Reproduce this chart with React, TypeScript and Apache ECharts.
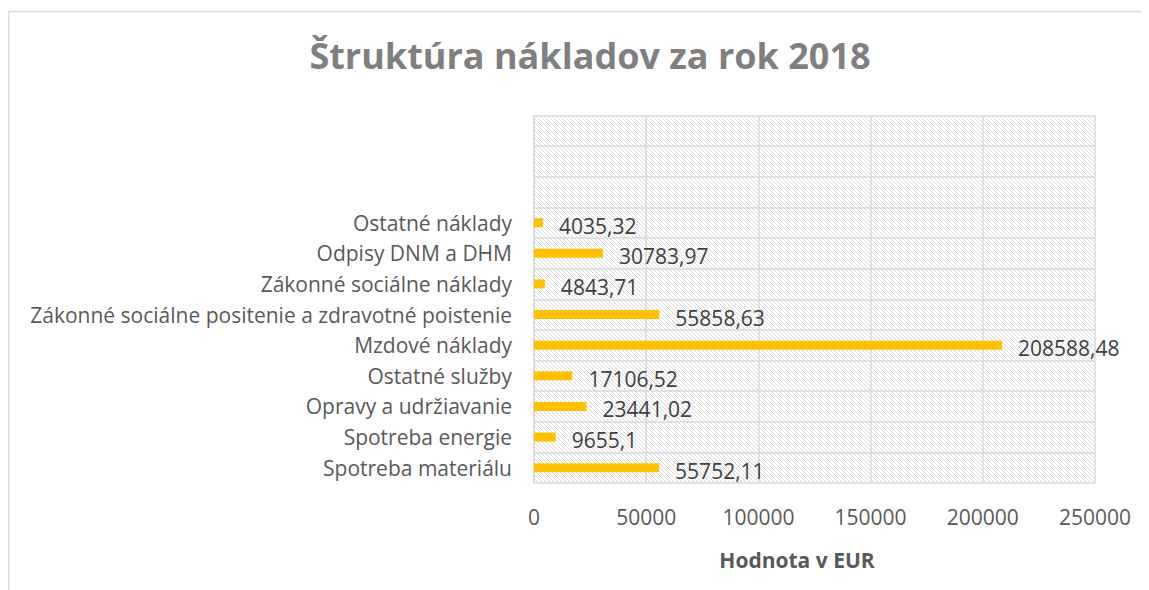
import React, { useEffect, useRef } from "react";
import * as echarts from "echarts";

const titleText = "Štruktúra nákladov za rok 2018";
const axisTitle = "Hodnota v EUR";
const categories = [
  "Spotreba materiálu",
  "Spotreba energie",
  "Opravy a udržiavanie",
  "Ostatné služby",
  "Mzdové náklady",
  "Zákonné sociálne positenie a zdravotné poistenie",
  "Zákonné sociálne náklady",
  "Odpisy DNM a DHM",
  "Ostatné náklady",
  " ",
  "  ",
  "   ",
];
const values: (number | null)[] = [
  55752.11, 9655.1, 23441.02, 17106.52, 208588.48, 55858.63, 4843.71, 30783.97, 4035.32, null, null, null,
];
const xMin = 0;
const xMax = 250000;
const xInterval = 50000;

const FONT = "'Open Sans', sans-serif";

function hatchPattern() {
  const svg =
    "<svg xmlns='http://www.w3.org/2000/svg' width='4' height='4'>" +
    "<rect width='4' height='4' fill='#ffffff'/>" +
    "<path d='M-1,-1 L5,5 M-1,3 L1,5 M3,-1 L5,1' stroke='#dcdcdc' stroke-width='1'/>" +
    "</svg>";
  return {
    image: "data:image/svg+xml;base64," + btoa(svg),
    repeat: "repeat",
    imageWidth: 4,
    imageHeight: 4,
  } as any;
}

export default function App() {
  const ref = useRef<HTMLDivElement>(null);
  useEffect(() => {
    if (!ref.current) return;
    const chart = echarts.init(ref.current, null, { renderer: "svg" });
    chart.setOption({
      animation: false,
      backgroundColor: "#ffffff",
      title: {
        text: titleText,
        left: 577,
        top: 24,
        textAlign: "center",
        textStyle: { fontFamily: FONT, fontSize: 36, fontWeight: "bold", color: "#7f7f7f" },
      },
      graphic: [
        { type: "line", shape: { x1: 0.5, y1: 3.5, x2: 1141, y2: 3.5 }, style: { stroke: "#d9d9d9", lineWidth: 1.5 } },
        { type: "line", shape: { x1: 0.5, y1: 3.5, x2: 0.5, y2: 582 }, style: { stroke: "#d9d9d9", lineWidth: 1.5 } },
      ],
      grid: {
        left: 526,
        right: 54,
        top: 107.5,
        bottom: 107,
        show: true,
        backgroundColor: hatchPattern(),
        borderWidth: 0,
      },
      xAxis: {
        type: "value",
        min: xMin,
        max: xMax,
        interval: xInterval,
        axisLine: { show: false },
        axisTick: { show: false },
        splitLine: { show: true, lineStyle: { color: "#d9d9d9", width: 1.5 } },
        axisLabel: {
          fontFamily: FONT,
          fontSize: 21,
          color: "#595959",
          margin: 23,
          formatter: (v: number) => String(v),
        },
        name: axisTitle,
        nameLocation: "middle",
        nameGap: 66,
        nameTextStyle: { fontFamily: FONT, fontSize: 21, fontWeight: "bold", color: "#595959", padding: [0, 35, 0, 0] },
      },
      yAxis: {
        type: "category",
        data: categories,
        axisLine: { show: true, lineStyle: { color: "#d9d9d9", width: 1.5 } },
        axisTick: { show: false },
        splitLine: { show: true, lineStyle: { color: "#d9d9d9", width: 1.5 } },
        axisLabel: { fontFamily: FONT, fontSize: 21, color: "#595959", margin: 22 },
      },
      series: [
        {
          type: "bar",
          data: values,
          barWidth: 9,
          itemStyle: { color: "#ffc000" },
          label: {
            show: true,
            position: "right",
            distance: 16,
            offset: [0, 3],
            fontFamily: FONT,
            fontSize: 21,
            color: "#404040",
            formatter: (p: any) => (p.value == null ? "" : String(p.value).replace(".", ",")),
          },
        },
      ],
    });
    return () => chart.dispose();
  }, []);
  return <div ref={ref} style={{ width: 1141, height: 582 }} />;
}
